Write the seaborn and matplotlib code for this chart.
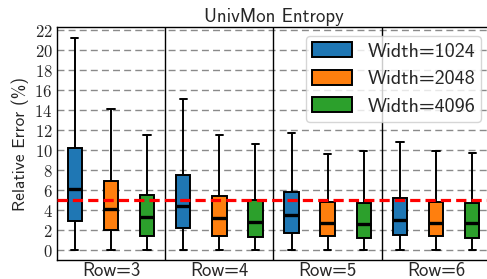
import numpy as np
import pandas as pd
import matplotlib
matplotlib.use("Agg")
import matplotlib.pyplot as plt
import seaborn as sns

rows = ["Row=3", "Row=4", "Row=5", "Row=6"]
widths = ["Width=1024", "Width=2048", "Width=4096"]

# per width: values for Row=3..6
mins_1024 = [0.0, 0.0, 0.0, 0.0]
q1_1024 = [2.9, 2.2, 1.67, 1.44]
med_1024 = [6.08, 4.4, 3.47, 3.0]
q3_1024 = [10.2, 7.48, 5.74, 5.21]
max_1024 = [21.2, 15.12, 11.72, 10.82]

mins_2048 = [0.0, 0.0, 0.0, 0.0]
q1_2048 = [1.97, 1.33, 1.33, 1.33]
med_2048 = [4.07, 3.14, 2.67, 2.7]
q3_2048 = [6.85, 5.37, 4.77, 4.77]
max_2048 = [14.15, 11.45, 9.61, 9.85]

mins_4096 = [0.0, 0.0, 0.0, 0.0]
q1_4096 = [1.4, 1.24, 1.17, 1.2]
med_4096 = [3.3, 2.77, 2.6, 2.64]
q3_4096 = [5.5, 4.94, 4.71, 4.64]
max_4096 = [11.45, 10.55, 9.91, 9.68]

threshold = 5.0
yticks = list(range(0, 23, 2))

stats = {
    "Width=1024": (mins_1024, q1_1024, med_1024, q3_1024, max_1024),
    "Width=2048": (mins_2048, q1_2048, med_2048, q3_2048, max_2048),
    "Width=4096": (mins_4096, q1_4096, med_4096, q3_4096, max_4096),
}

records = []
for w in widths:
    mn, q1, md, q3, mx = stats[w]
    for i, r in enumerate(rows):
        for v in (mn[i], q1[i], md[i], q3[i], mx[i]):
            records.append({"Row": r, "Width": w, "err": v})
df = pd.DataFrame(records)

sns.set_style("white")
plt.rcParams["mathtext.fontset"] = "cm"
SANS = ["cmss10", "DejaVu Sans"]

fig = plt.figure(figsize=(4.87, 2.79), dpi=100)
ax = fig.add_axes([0.1164, 0.068, 0.8904, 0.834])

palette = ["#1f77b4", "#ff7f0e", "#2ca02c"]
sns.boxplot(data=df, x="Row", y="err", hue="Width", order=rows, hue_order=widths,
            palette=palette, saturation=1, width=1.0, gap=0.6, whis=(0, 100),
            linecolor="black", linewidth=1.4, fliersize=0, ax=ax,
            medianprops={"linewidth": 2.4, "color": "black"}, zorder=3)

for yv in yticks:
    ax.axhline(yv, color="#8a8a8a", lw=1.0, ls=(0, (5, 3)), zorder=1)
for xv in [0.5, 1.5, 2.5]:
    ax.axvline(xv, color="black", lw=1.0, zorder=2)
ax.axhline(threshold, color="#ff0000", lw=2.3, ls=(0, (3.2, 1.6)), zorder=5)

ax.set_xlim(-0.5, 3.5)
ax.set_ylim(-1.05, 22.3)
ax.set_yticks(yticks)
ax.set_yticklabels([f"${t}$" for t in yticks], fontsize=12)
ax.set_xticks(range(len(rows)))
ax.set_xticklabels(rows, fontsize=13.5, family=SANS)
ax.tick_params(axis="y", length=0, pad=3)
ax.tick_params(axis="x", length=0, pad=1.5)
ax.set_xlabel("")
ax.set_ylabel("Relative Error (%)", fontsize=12.5, labelpad=4, family=SANS)
ax.set_title("UnivMon Entropy", fontsize=13.5, pad=4, family=SANS)
for s in ax.spines.values():
    s.set_color("black")
    s.set_linewidth(1.0)

handles, labels = ax.get_legend_handles_labels()
ax.legend(handles, labels, loc="upper right", borderaxespad=0.45,
          prop={"family": SANS, "size": 14.5}, handlelength=2.0, handleheight=0.75,
          handletextpad=0.75, borderpad=0.3, labelspacing=0.45,
          frameon=True, framealpha=0.8, edgecolor="#cccccc", fancybox=True)

fig.savefig("out.png", dpi=100)
